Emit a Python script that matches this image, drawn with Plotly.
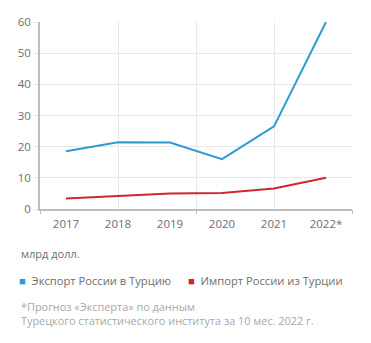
import plotly.graph_objects as go

years = ["2017", "2018", "2019", "2020", "2021", "2022*"]
export_ru_tr = [18.5, 21.4, 21.3, 16.0, 26.5, 60.0]
import_ru_tr = [3.4, 4.3, 5.0, 5.1, 6.6, 10.0]
series_names = ["Экспорт России в Турцию", "Импорт России из Турции"]
unit_label = "млрд долл."
footnote = "*Прогноз «Эксперта» по данным<br>Турецкого статистического института за 10 мес. 2022 г."

BLUE = "#2d9ad4"
RED = "#d0262e"
GRID = "#e8e8e8"
AXIS = "#bdbdbd"
TXT = "#6e6e6e"
FONT = "Open Sans"

idx = list(range(len(years)))

fig = go.Figure()
fig.add_trace(go.Scatter(x=idx, y=export_ru_tr, mode="lines", name=series_names[0],
                         line=dict(color=BLUE, width=2), showlegend=False))
fig.add_trace(go.Scatter(x=idx, y=import_ru_tr, mode="lines", name=series_names[1],
                         line=dict(color=RED, width=2), showlegend=False))
# empty trace to activate the grid axis
fig.add_trace(go.Scatter(x=[], y=[], xaxis="x2", yaxis="y", showlegend=False, hoverinfo="skip"))

fig.update_layout(
    width=371, height=343,
    margin=dict(l=40, r=19, t=22, b=134),
    paper_bgcolor="white", plot_bgcolor="white",
    font=dict(family=FONT, color=TXT, size=11),
    xaxis=dict(range=[-0.5, 5.5], tickvals=idx, ticktext=years, showgrid=False,
               showline=True, linecolor=AXIS, linewidth=1.5, ticks="",
               ticklabelstandoff=3,
               zeroline=False, tickfont=dict(size=11.5, color=TXT), layer="above traces"),
    xaxis2=dict(overlaying="x", range=[-0.5, 5.5], tick0=-0.5, dtick=3, showticklabels=False,
                showgrid=True, gridcolor=GRID, gridwidth=1.2, ticks="outside", ticklen=4,
                tickcolor=AXIS, tickwidth=1.2, zeroline=False, showline=False,
                minor=dict(tick0=-0.5, dtick=1.5, showgrid=True, gridcolor=GRID, gridwidth=1.2),
                layer="below traces"),
    yaxis=dict(range=[0, 60], dtick=10, showgrid=True, gridcolor=GRID, gridwidth=1.2,
               showline=True, linecolor=AXIS, linewidth=1.5, ticks="outside", ticklen=5,
               tickcolor=GRID, zeroline=False, tickfont=dict(size=11.5, color=TXT)),
    showlegend=False,
)

fig.add_annotation(xref="paper", yref="paper", x=-21/312, y=(209-253)/187, xanchor="left",
                   yanchor="middle", text=unit_label, showarrow=False,
                   font=dict(size=11, color=TXT))
fig.add_annotation(xref="paper", yref="paper", x=-23/312, y=(209-280)/187, xanchor="left",
                   yanchor="middle", showarrow=False, font=dict(size=11.2, color=TXT),
                   text=f"<span style='color:{BLUE}'>■</span>  {series_names[0]}")
fig.add_annotation(xref="paper", yref="paper", x=(146-40)/312 + 40/312, y=(209-280)/187,
                   xanchor="left", yanchor="middle", showarrow=False,
                   font=dict(size=11.2, color=TXT),
                   text=f"<span style='color:{RED}'>■</span>  {series_names[1]}")
fig.add_annotation(xref="paper", yref="paper", x=-21/312, y=(209-313)/187, xanchor="left",
                   yanchor="middle", align="left", showarrow=False,
                   font=dict(size=10.9, color="#a8a8a8"), text=footnote)

fig.write_html("out.html")
